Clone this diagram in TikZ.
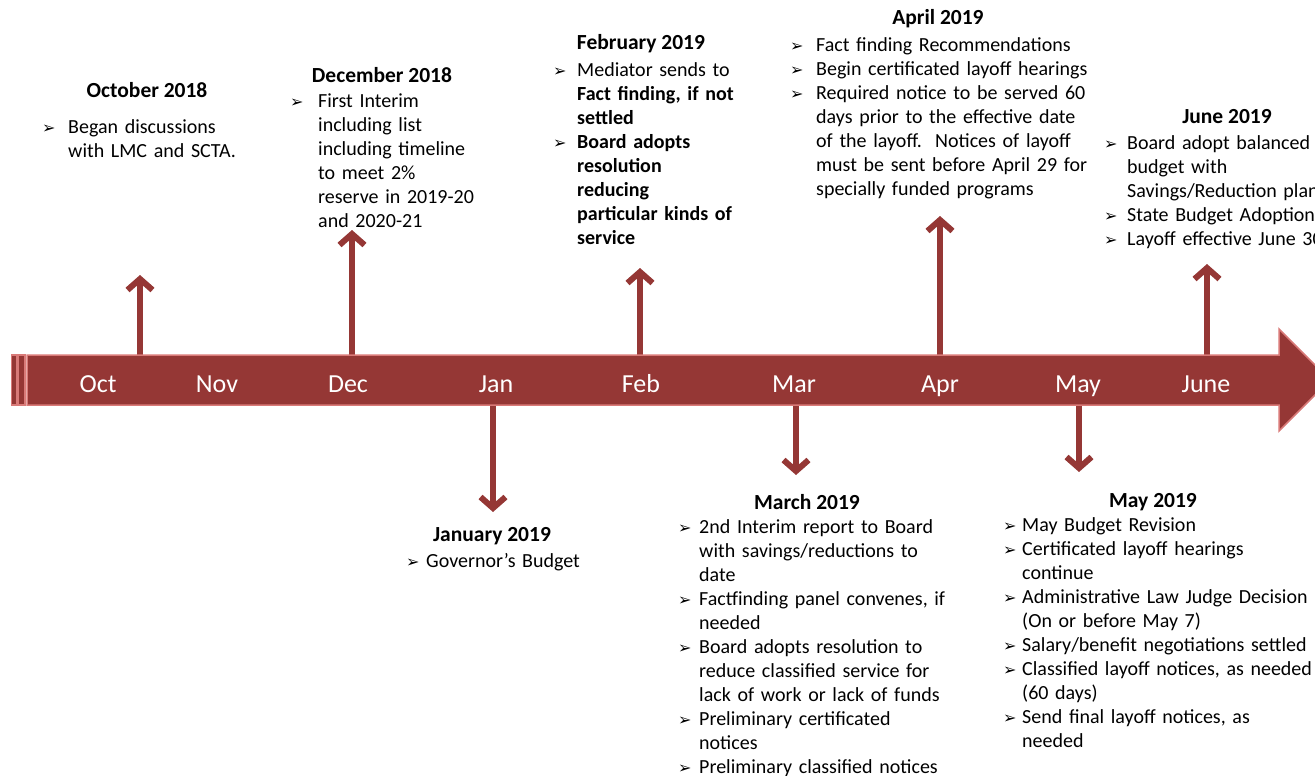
\documentclass[tikz,border=0pt]{standalone}
\usepackage{fontspec}
\setmainfont{Carlito}
\newfontfamily\dejavu{DejaVu Sans}
\usetikzlibrary{arrows.meta}
\definecolor{barred}{RGB}{149,55,53}
\definecolor{barline}{RGB}{217,122,120}
\newlength\bind
\newcommand\bul{\hbox to\bind{\rule{0pt}{17pt}\raisebox{0pt}{\dejavu\fontsize{16}{16}\selectfont ➢}\hfil}}
\newcommand\bitem[1]{\par\hangindent=\bind\hangafter=1\noindent\bul#1\par}
\newcommand\nl{\hfil\break}
\tikzset{
  body/.style={anchor=north west, inner sep=0pt, text width=420pt,
    font=\fontsize{20}{24}\selectfont,
    execute at begin node={\setlength\bind{#1}\rightskip=0pt plus 1fil\parindent=0pt}},
  ttl/.style={anchor=base, inner sep=0pt, font=\fontsize{21.5}{24}\selectfont\bfseries},
  mon/.style={anchor=base, inner sep=0pt, text=white, font=\fontsize{26}{30}\selectfont},
  varr/.style={draw=barred, line width=6pt, -{Straight Barb[length=11pt,width=25pt]}},
  barshape/.style={fill=barred, draw=barline, line width=1.5pt, line join=miter}
}
\begin{document}
\begin{tikzpicture}[x=1pt,y=-1pt]
\useasboundingbox (0,0) rectangle (1315,776);
\clip (0,0) rectangle (1315,776);
% arrow coordinates
\coordinate (octb) at (140,365); \coordinate (octt) at (140,275);
\coordinate (decb) at (352,365); \coordinate (dect) at (352,230);
\coordinate (febb) at (640,365); \coordinate (febt) at (640,268);
\coordinate (aprb) at (940,365); \coordinate (aprt) at (940,216);
\coordinate (junb) at (1207,365); \coordinate (junt) at (1207,264);
\coordinate (janb) at (493,395); \coordinate (jant) at (493,512);
\coordinate (marb) at (796,395); \coordinate (mart) at (796,475);
\coordinate (mayb) at (1079,395); \coordinate (mayt) at (1079,472);
\draw[varr] (octb) -- (octt);
\draw[varr] (decb) -- (dect);
\draw[varr] (febb) -- (febt);
\draw[varr] (aprb) -- (aprt);
\draw[varr] (junb) -- (junt);
\draw[varr] (janb) -- (jant);
\draw[varr] (marb) -- (mart);
\draw[varr] (mayb) -- (mayt);
% timeline bar
\path[barshape] (11.5,355) rectangle (16.5,405);
\path[barshape] (18,355) rectangle (25,405);
\path[barshape] (27,355) -- (1279,355) -- (1279,329) -- (1330,380) -- (1279,431) -- (1279,405) -- (27,405) -- cycle;
% month labels
\node[mon] (moct) at (98,392) {Oct};
\node[mon] (mnov) at (217,392) {Nov};
\node[mon] (mdec) at (348,392) {Dec};
\node[mon] (mjan) at (496,392) {Jan};
\node[mon] (mfeb) at (641,392) {Feb};
\node[mon] (mmar) at (794,392) {Mar};
\node[mon] (mapr) at (940,392) {Apr};
\node[mon] (mmay) at (1078,392) {May};
\node[mon] (mjun) at (1206,392) {June};
% October
\node[ttl] (toct) at (147,98) {October 2018};
\node[body=26pt] (boct) at (42,109) {\bitem{Began discussions\nl with LMC and SCTA.}};
% December
\node[ttl] (tdec) at (382,82) {December 2018};
\node[body=28pt] (bdec) at (290,83) {\bitem{First Interim\nl including list\nl including timeline\nl to meet 2\%\nl reserve in 2019-20\nl and 2020-21}};
% February
\node[ttl] (tfeb) at (641,50) {February 2019};
\node[body=24pt] (bfeb) at (553,52) {\bitem{Mediator sends to\nl \textbf{Fact finding, if not}\nl \textbf{settled}}\bitem{\textbf{Board adopts\nl resolution\nl reducing\nl particular kinds of\nl service}}};
% April
\node[ttl] (tapr) at (938,25) {April 2019};
\node[body=26pt] (bapr) at (790,27) {\bitem{Fact finding Recommendations}\bitem{Begin certificated layoff hearings}\bitem{Required notice to be served 60\nl days prior to the effective date\nl of the layoff.\ \ Notices of layoff\nl must be sent before April 29 for\nl specially funded programs}};
% June
\node[ttl] (tjun) at (1227,124) {June 2019};
\node[body=23pt] (bjun) at (1104,125) {\bitem{Board adopt balanced\nl budget with\nl Savings/Reduction plan}\bitem{State Budget Adoption}\bitem{Layoff effective June 30}};
% January
\node[ttl] (tjan) at (492,541) {January 2019};
\node[body=20pt] (bjan) at (406,543) {\bitem{Governor’s Budget}};
% March
\node[ttl] (tmar) at (807,509) {March 2019};
\node[body=21pt] (bmar) at (678,509) {\bitem{2nd Interim report to Board\nl with savings/reductions to\nl date}\bitem{Factfinding panel convenes, if\nl needed}\bitem{Board adopts resolution to\nl reduce classified service for\nl lack of work or lack of funds}\bitem{Preliminary certificated\nl notices}\bitem{Preliminary classified notices}};
% May
\node[ttl] (tmay) at (1153,507) {May 2019};
\node[body=19pt] (bmay) at (1003,507) {\bitem{May Budget Revision}\bitem{Certificated layoff hearings\nl continue}\bitem{Administrative Law Judge Decision\nl (On or before May 7)}\bitem{Salary/benefit negotiations settled}\bitem{Classified layoff notices, as needed\nl (60 days)}\bitem{Send final layoff notices, as\nl needed}};
\end{tikzpicture}
\end{document}
